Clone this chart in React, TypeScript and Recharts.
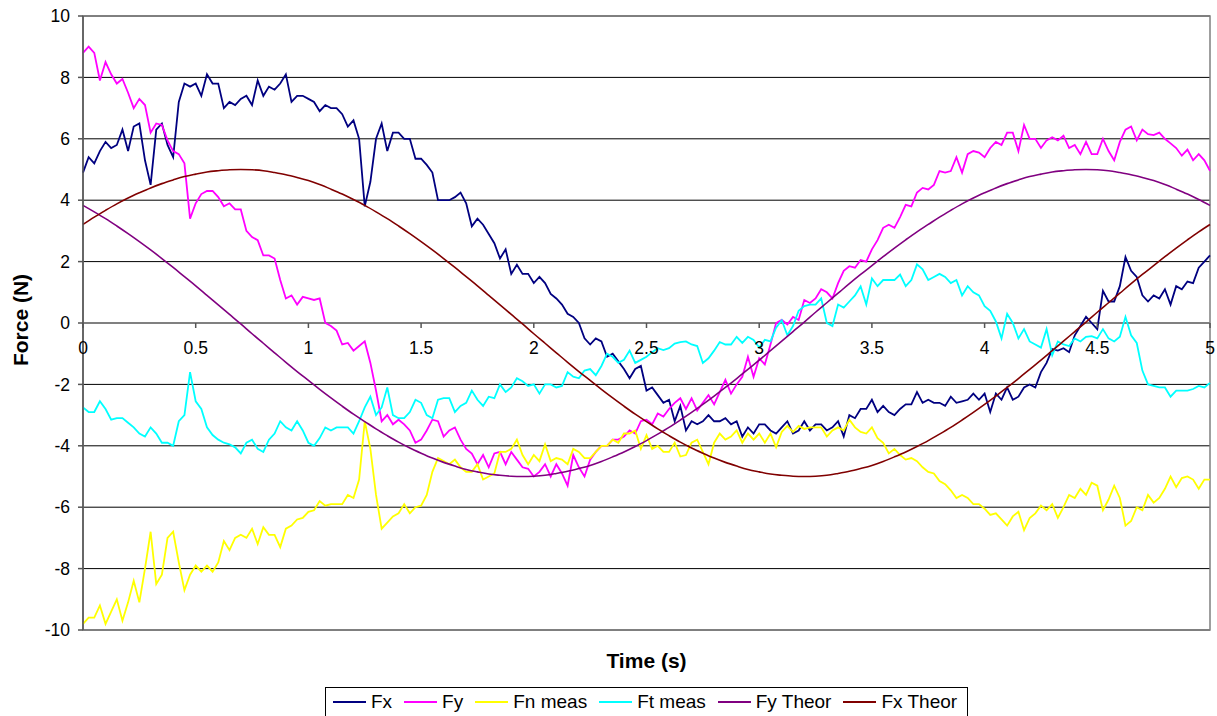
import React from 'react';
import { LineChart, Line, XAxis, YAxis, CartesianGrid, ReferenceLine, ReferenceArea, Legend } from 'recharts';

const time = [
  0, 0.025, 0.05, 0.075, 0.1, 0.125, 0.15, 0.175,
  0.2, 0.225, 0.25, 0.275, 0.3, 0.325, 0.35, 0.375,
  0.4, 0.425, 0.45, 0.475, 0.5, 0.525, 0.55, 0.575,
  0.6, 0.625, 0.65, 0.675, 0.7, 0.725, 0.75, 0.775,
  0.8, 0.825, 0.85, 0.875, 0.9, 0.925, 0.95, 0.975,
  1, 1.025, 1.05, 1.075, 1.1, 1.125, 1.15, 1.175,
  1.2, 1.225, 1.25, 1.275, 1.3, 1.325, 1.35, 1.375,
  1.4, 1.425, 1.45, 1.475, 1.5, 1.525, 1.55, 1.575,
  1.6, 1.625, 1.65, 1.675, 1.7, 1.725, 1.75, 1.775,
  1.8, 1.825, 1.85, 1.875, 1.9, 1.925, 1.95, 1.975,
  2, 2.025, 2.05, 2.075, 2.1, 2.125, 2.15, 2.175,
  2.2, 2.225, 2.25, 2.275, 2.3, 2.325, 2.35, 2.375,
  2.4, 2.425, 2.45, 2.475, 2.5, 2.525, 2.55, 2.575,
  2.6, 2.625, 2.65, 2.675, 2.7, 2.725, 2.75, 2.775,
  2.8, 2.825, 2.85, 2.875, 2.9, 2.925, 2.95, 2.975,
  3, 3.025, 3.05, 3.075, 3.1, 3.125, 3.15, 3.175,
  3.2, 3.225, 3.25, 3.275, 3.3, 3.325, 3.35, 3.375,
  3.4, 3.425, 3.45, 3.475, 3.5, 3.525, 3.55, 3.575,
  3.6, 3.625, 3.65, 3.675, 3.7, 3.725, 3.75, 3.775,
  3.8, 3.825, 3.85, 3.875, 3.9, 3.925, 3.95, 3.975,
  4, 4.025, 4.05, 4.075, 4.1, 4.125, 4.15, 4.175,
  4.2, 4.225, 4.25, 4.275, 4.3, 4.325, 4.35, 4.375,
  4.4, 4.425, 4.45, 4.475, 4.5, 4.525, 4.55, 4.575,
  4.6, 4.625, 4.65, 4.675, 4.7, 4.725, 4.75, 4.775,
  4.8, 4.825, 4.85, 4.875, 4.9, 4.925, 4.95, 4.975,
  5,
];

const fx = [
  4.9, 5.4, 5.2, 5.6, 5.9, 5.7, 5.8, 6.3, 5.6, 6.4, 6.5, 5.3, 4.5, 6.3, 6.5, 5.8,
  5.4, 7.2, 7.8, 7.7, 7.8, 7.4, 8.1, 7.8, 7.8, 7.0, 7.2, 7.1, 7.3, 7.4, 7.1, 7.9,
  7.4, 7.7, 7.6, 7.8, 8.1, 7.2, 7.4, 7.4, 7.3, 7.2, 6.9, 7.1, 7.0, 7.0, 6.8, 6.4,
  6.6, 6.0, 3.8, 4.6, 6.0, 6.5, 5.6, 6.2, 6.2, 6.0, 6.0, 5.35, 5.35, 5.15, 4.9, 4.0,
  4.0, 4.0, 4.1, 4.25, 3.9, 3.15, 3.4, 3.2, 2.9, 2.6, 2.1, 2.4, 1.6, 1.9, 1.6, 1.6,
  1.3, 1.5, 1.3, 0.95, 0.8, 0.6, 0.3, 0.2, 0.0, -0.5, -0.7, -0.5, -0.6, -1.1, -1.0, -1.25,
  -1.5, -1.8, -1.5, -1.4,
  -2.2, -2.1, -2.35, -2.6, -2.5, -3.2, -2.7, -3.5, -3.2, -3.3, -3.2, -3.0, -3.2, -3.2, -3.1, -3.3,
  -3.2, -3.7, -3.4, -3.6, -3.3, -3.3, -3.5, -3.6, -3.4, -3.2, -3.6, -3.5, -3.2, -3.5, -3.3, -3.3,
  -3.5, -3.4,
  -3.2, -3.7, -3.0, -3.1, -2.8, -2.8, -2.5, -2.9, -2.7, -2.9, -3.0, -2.8, -2.65, -2.65, -2.25, -2.6,
  -2.5, -2.6, -2.6, -2.7, -2.4, -2.6, -2.55, -2.5, -2.3, -2.5, -2.3, -2.9, -2.3, -2.5, -2.1, -2.5,
  -2.4, -2.1,
  -2.0, -2.1, -1.6, -1.3, -0.85, -0.9, -0.82, -0.95, -0.4, -0.1, 0.2, 0.0, -0.2, 1.05, 0.7, 0.7,
  1.2, 2.15, 1.7, 1.5, 0.9, 0.7, 0.9, 0.8, 1.1, 0.6, 1.2, 1.1, 1.35, 1.3, 1.8, 2.0,
  2.2,
];

const fy = [
  8.8, 9.0, 8.8, 7.9, 8.5, 8.1, 7.8, 7.95, 7.5, 7.0, 7.3, 7.1, 6.2, 6.5, 6.45, 5.95,
  5.6, 5.5, 5.2, 3.4, 3.9, 4.2, 4.3, 4.3, 4.1, 3.8, 3.9, 3.7, 3.7, 3.0, 2.8, 2.7,
  2.2, 2.2, 2.1, 1.4, 0.8, 0.9, 0.6, 0.85, 0.8, 0.75, 0.8, 0.0, -0.1, -0.25, -0.7, -0.65,
  -0.9, -0.75, -0.6, -1.3, -2.2, -3.2, -3.0, -3.3, -3.15, -3.3, -3.5, -3.9, -3.8, -3.5, -3.15, -3.2,
  -3.7, -3.5, -3.4, -3.8, -4.1, -4.25, -4.6, -4.3, -4.7, -4.25, -4.2, -4.6, -4.2, -4.45, -4.7, -4.75,
  -5.0, -4.85, -4.6, -5.0, -4.6, -4.9, -5.3, -4.3, -4.7, -5.0, -4.45, -4.2, -4.0, -4.0, -3.8, -3.8,
  -3.7, -3.5, -3.6, -3.2,
  -3.15, -3.3, -2.95, -3.05, -2.8, -2.6, -2.45, -2.8, -2.45, -2.85, -2.6, -2.35, -2.65, -2.25, -1.85, -2.3,
  -2.0, -1.75, -1.1, -1.75, -1.15, -1.35, -0.7, 0.0, 0.1, -0.05, 0.2, 0.1, 0.75, 0.65, 0.8, 1.1,
  1.0, 0.8,
  1.3, 1.7, 1.85, 1.8, 2.05, 2.0, 2.4, 2.7, 3.1, 3.2, 3.1, 3.45, 3.85, 3.8, 4.25, 4.4,
  4.35, 4.5, 4.95, 4.9, 4.95, 5.4, 4.9, 5.5, 5.6, 5.55, 5.4, 5.7, 5.9, 5.8, 6.2, 6.2,
  5.6, 6.45,
  6.0, 6.0, 5.7, 5.95, 6.05, 5.95, 6.1, 5.7, 5.8, 5.5, 5.9, 5.5, 5.5, 6.0, 5.6, 5.3,
  5.9, 6.3, 6.4, 5.95, 6.3, 6.15, 6.12, 6.2, 6.0, 5.85, 5.7, 5.45, 5.65, 5.3, 5.5, 5.3,
  4.96,
];

const fnMeas = [
  -9.8, -9.6, -9.6, -9.2, -9.8, -9.4, -9.0, -9.7, -9.1, -8.4, -9.1, -8.0, -6.8, -8.5, -8.2, -7.0,
  -6.8, -7.8, -8.7, -8.2, -7.9, -8.1, -7.9, -8.1, -7.8, -7.1, -7.4, -7.0, -6.9, -7.0, -6.7, -7.2,
  -6.65, -6.9, -6.9, -7.3, -6.7, -6.6, -6.4, -6.35, -6.15, -6.1, -5.8, -5.95, -5.9, -5.9, -5.9, -5.6,
  -5.7, -5.1, -3.2, -4.1, -5.6, -6.7, -6.5, -6.3, -6.2, -5.9, -6.2, -6.0, -5.95, -5.6, -4.85, -4.4,
  -4.5, -4.6, -4.45, -4.7, -4.85, -4.85, -4.6, -5.1, -5.0, -4.9, -4.2, -4.2, -4.1, -3.8, -4.3, -4.6,
  -4.3, -4.5, -3.95, -4.5, -4.4, -4.45, -4.6, -4.1, -4.2, -4.4, -4.4, -4.2, -4.0, -4.0, -3.8, -3.9,
  -3.6, -3.6, -3.5, -4.1,
  -3.65, -4.1, -4.0, -4.2, -4.2, -3.9, -4.35, -4.3, -3.9, -3.8, -4.2, -4.6, -3.9, -3.6, -3.8, -3.7,
  -3.5, -3.9, -3.6, -3.8, -3.6, -3.9, -3.6, -4.05, -3.55, -3.35, -3.55, -3.35, -3.45, -3.4, -3.4, -3.4,
  -3.7, -3.5,
  -3.4, -3.5, -3.15, -3.4, -3.55, -3.6, -3.4, -3.75, -3.9, -4.25, -4.1, -4.3, -4.45, -4.4, -4.5, -4.7,
  -4.85, -4.9, -5.15, -5.25, -5.45, -5.7, -5.6, -5.7, -5.9, -5.9, -6.05, -6.25, -6.2, -6.4, -6.6, -6.3,
  -6.15, -6.75,
  -6.35, -6.2, -5.95, -6.1, -5.9, -6.35, -6.0, -5.6, -5.7, -5.4, -5.6, -5.2, -5.3, -6.1, -5.75, -5.3,
  -5.7, -6.6, -6.45, -6.0, -6.1, -5.6, -5.85, -5.7, -5.4, -5.0, -5.35, -5.05, -5.0, -5.1, -5.4, -5.1,
  -5.1,
];

const ftMeas = [
  -2.75, -2.9, -2.9, -2.55, -2.8, -3.15, -3.1, -3.1, -3.25, -3.4, -3.6, -3.7, -3.4, -3.6, -3.9, -3.9,
  -4.0, -3.2, -3.0, -1.6, -2.55, -2.8, -3.4, -3.65, -3.8, -3.9, -3.95, -4.05, -4.25, -3.9, -3.8, -4.1,
  -4.2, -3.8, -3.6, -3.2, -3.4, -3.5, -3.2, -3.5, -3.9, -4.0, -3.75, -3.4, -3.5, -3.4, -3.4, -3.4,
  -3.6, -3.2, -2.75, -2.4, -3.0, -2.75, -2.1, -3.0, -3.1, -3.1, -2.9, -2.5, -2.6, -3.0, -3.1, -2.5,
  -2.45, -2.45, -2.9, -2.7, -2.6, -2.2, -2.5, -2.7, -2.4, -2.45, -2.0, -2.25, -2.1, -1.8, -1.9, -2.05,
  -2.0, -2.3, -2.0, -2.0, -2.1, -2.05, -1.6, -1.75, -1.8, -1.55, -1.5, -1.7, -1.4, -1.0, -1.1, -1.3,
  -1.2, -0.9, -1.3, -1.2,
  -1.1, -0.95, -0.82, -0.88, -0.82, -0.67, -0.62, -0.6, -0.7, -0.75, -1.3, -1.15, -0.9, -0.62, -0.7, -0.7,
  -0.45, -0.65, -0.45, -0.55, -0.8, -0.55, -0.6, -0.15, 0.09, -0.4, -0.1, 0.4, 0.55, 0.6, 0.6, 0.8,
  0.0, -0.1,
  0.6, 0.5, 0.7, 0.9, 1.19, 0.6, 1.45, 1.2, 1.4, 1.4, 1.4, 1.58, 1.2, 1.4, 1.91, 1.75,
  1.4, 1.5, 1.6, 1.5, 1.3, 1.4, 0.9, 1.2, 1.0, 0.9, 0.55, 0.4, 0.05, -0.5, 0.3, 0.0,
  -0.5, -0.2,
  -0.6, -0.7, -0.8, -0.2, -1.05, -0.6, -0.7, -0.75, -0.5, -0.6, -0.45, -0.43, -0.5, -0.2, -0.5, -0.6,
  -0.45, 0.2, -0.4, -0.65, -1.55, -2.0, -2.05, -2.1, -2.1, -2.4, -2.2, -2.2, -2.2, -2.15, -2.05, -2.1,
  -1.95,
];

// ---- theoretical curves, sampled every 0.05 s ----
const theoryTime = [
  0, 0.05, 0.1, 0.15, 0.2, 0.25, 0.3, 0.35, 0.4, 0.45, 0.5, 0.55, 0.6, 0.65, 0.7, 0.75,
  0.8, 0.85, 0.9, 0.95, 1, 1.05, 1.1, 1.15, 1.2, 1.25, 1.3, 1.35, 1.4, 1.45, 1.5, 1.55, 1.6,
  1.65, 1.7, 1.75, 1.8, 1.85, 1.9, 1.95, 2, 2.05, 2.1, 2.15, 2.2, 2.25, 2.3, 2.35, 2.4, 2.45,
  2.5, 2.55, 2.6, 2.65, 2.7, 2.75, 2.8, 2.85, 2.9, 2.95, 3, 3.05, 3.1, 3.15, 3.2, 3.25, 3.3,
  3.35, 3.4, 3.45, 3.5, 3.55, 3.6, 3.65, 3.7, 3.75, 3.8, 3.85, 3.9, 3.95, 4, 4.05, 4.1, 4.15,
  4.2, 4.25, 4.3, 4.35, 4.4, 4.45, 4.5, 4.55, 4.6, 4.65, 4.7, 4.75, 4.8, 4.85, 4.9, 4.95, 5,
];

const fyTheor = [
  3.83, 3.62, 3.40, 3.16, 2.91, 2.65, 2.38, 2.10, 1.81, 1.51, 1.21, 0.90, 0.59, 0.28, -0.03,
  -0.35, -0.66, -0.97, -1.28, -1.58, -1.87, -2.16, -2.44, -2.71, -2.97, -3.21, -3.45, -3.67, -3.88, -4.07,
  -4.24, -4.40, -4.54, -4.66, -4.77, -4.85, -4.92, -4.96, -4.99, -5.00, -4.99, -4.96, -4.90, -4.83, -4.74,
  -4.64, -4.51, -4.36, -4.20, -4.02, -3.83, -3.62, -3.40, -3.16, -2.91, -2.65, -2.38, -2.10, -1.81, -1.51,
  -1.21, -0.90, -0.59, -0.28, 0.03, 0.35, 0.66, 0.97, 1.28, 1.58, 1.87, 2.16, 2.44, 2.71, 2.97, 3.21,
  3.45, 3.67, 3.88, 4.07, 4.24, 4.40, 4.54, 4.66, 4.77, 4.85, 4.92, 4.96, 4.99, 5.00, 4.99, 4.96, 4.90,
  4.83, 4.74, 4.64, 4.51, 4.36, 4.20, 4.02, 3.83,
];

const fxTheor = [
  3.21, 3.45, 3.67, 3.88, 4.07, 4.24, 4.40, 4.54, 4.66, 4.77, 4.85, 4.92, 4.96, 4.99, 5.00,
  4.99, 4.96, 4.90, 4.83, 4.74, 4.64, 4.51, 4.36, 4.20, 4.02, 3.83, 3.62, 3.40, 3.16, 2.91,
  2.65, 2.38, 2.10, 1.81, 1.51, 1.21, 0.90, 0.59, 0.28, -0.03, -0.35, -0.66, -0.97, -1.28, -1.58,
  -1.87, -2.16, -2.44, -2.71, -2.97, -3.21, -3.45, -3.67, -3.88, -4.07, -4.24, -4.40, -4.54, -4.66, -4.77,
  -4.85, -4.92, -4.96, -4.99, -5.00, -4.99, -4.96, -4.90, -4.83, -4.74, -4.64, -4.51, -4.36, -4.20, -4.02,
  -3.83, -3.62, -3.40, -3.16, -2.91, -2.65, -2.38, -2.10, -1.81, -1.51, -1.21, -0.90, -0.59, -0.28, 0.03,
  0.35, 0.66, 0.97, 1.28, 1.58, 1.87, 2.16, 2.44, 2.71, 2.97, 3.21,
];

const xTicks = [0, 0.5, 1, 1.5, 2, 2.5, 3, 3.5, 4, 4.5, 5];
const yTicks = [-10, -8, -6, -4, -2, 0, 2, 4, 6, 8, 10];
const legendOrder = ['Fx', 'Fy', 'Fn meas', 'Ft meas', 'Fy Theor', 'Fx Theor'];

const measured = time.map((t, i) => ({ t, fx: fx[i], fy: fy[i], fn: fnMeas[i], ft: ftMeas[i] }));
const theory = theoryTime.map((t, i) => ({ t, fyT: fyTheor[i], fxT: fxTheor[i] }));

// ---- layout ----
const W = 1217;
const H = 716;
const M_TOP = 16;
const M_RIGHT = 7;
const Y_AXIS_W = 83;
const X_AXIS_H = 86;
const Y_MIN = -10;
const Y_MAX = 10;
const PLOT_H = H - M_TOP - X_AXIS_H;
const ZERO_Y = M_TOP + (PLOT_H * (Y_MAX - 0)) / (Y_MAX - Y_MIN);
const FONT = '"Liberation Sans", Arial, Helvetica, sans-serif';

const XTick = (props: any) => {
  const { x, payload } = props;
  return (
    <g>
      <line x1={x} x2={x} y1={ZERO_Y} y2={ZERO_Y + 5} stroke="#555" strokeWidth={1.5} />
      <text x={x} y={ZERO_Y + 31} textAnchor="middle" fontSize={17.5} fontFamily={FONT} fill="#000">
        {payload.value}
      </text>
    </g>
  );
};

const YTitle = () => {
  const cx = 28;
  const cy = M_TOP + PLOT_H / 2 - 3;
  return (
    <text
      x={cx}
      y={cy}
      transform={`rotate(-90 ${cx} ${cy})`}
      textAnchor="middle"
      fontWeight="bold"
      fontSize={21}
      fontFamily={FONT}
      fill="#000"
    >
      Force (N)
    </text>
  );
};

const XTitle = () => {
  const cx = Y_AXIS_W + (W - Y_AXIS_W - M_RIGHT) / 2;
  return (
    <text x={cx} y={668} textAnchor="middle" fontWeight="bold" fontSize={21} fontFamily={FONT} fill="#000">
      Time (s)
    </text>
  );
};

const LegendBox = (props: any) => {
  const payload = [...(props.payload || [])].sort(
    (a: any, b: any) => legendOrder.indexOf(a.value) - legendOrder.indexOf(b.value)
  );
  return (
    <div
      style={{
        position: 'absolute',
        left: 325,
        top: 687,
        height: 29,
        boxSizing: 'border-box',
        border: '1px solid #000',
        borderBottom: 'none',
        display: 'flex',
        alignItems: 'center',
        paddingLeft: 7,
        fontFamily: FONT,
        fontSize: 19,
        whiteSpace: 'nowrap',
        background: '#fff',
        color: '#000',
      }}
    >
      {payload.map((e: any, i: number) => (
        <div
          key={i}
          style={{ display: 'flex', alignItems: 'center', marginRight: i === payload.length - 1 ? 10 : 12 }}
        >
          <span style={{ display: 'inline-block', width: 33, height: 2, background: e.color, marginRight: 5 }} />
          <span>{e.value}</span>
        </div>
      ))}
    </div>
  );
};

export default function App() {
  return (
    <div style={{ position: 'absolute', left: 0, top: 0, width: W, height: H, background: '#fff' }}>
      <LineChart width={W} height={H} data={measured} margin={{ top: M_TOP, right: M_RIGHT, bottom: 0, left: 0 }}>
        <CartesianGrid horizontal vertical={false} stroke="#000" strokeWidth={1} />
        <ReferenceArea
          x1={0}
          x2={5}
          y1={Y_MIN}
          y2={Y_MAX}
          fill="none"
          fillOpacity={0}
          stroke="#808080"
          strokeWidth={1.5}
          ifOverflow="visible"
        />
        <ReferenceLine y={0} stroke="#808080" strokeWidth={2} />
        <XAxis
          dataKey="t"
          type="number"
          domain={[0, 5]}
          ticks={xTicks}
          interval={0}
          axisLine={false}
          tickLine={false}
          height={X_AXIS_H}
          tick={(p: any) => <XTick {...p} />}
          label={<XTitle />}
          allowDuplicatedCategory={false}
        />
        <YAxis
          type="number"
          domain={[Y_MIN, Y_MAX]}
          ticks={yTicks}
          interval={0}
          width={Y_AXIS_W}
          tickSize={5}
          tickMargin={8}
          axisLine={{ stroke: '#555', strokeWidth: 1.5 }}
          tickLine={{ stroke: '#555', strokeWidth: 1.5 }}
          tick={{ fontSize: 17.5, fontFamily: FONT, fill: '#000' }}
          label={<YTitle />}
        />
        <Legend
          content={(p: any) => <LegendBox {...p} />}
          wrapperStyle={{ position: 'absolute', left: 0, top: 0, width: 0, height: 0, margin: 0 }}
        />
        <Line dataKey="fx" name="Fx" stroke="#000080" strokeWidth={1.8} dot={false} isAnimationActive={false} type="linear" />
        <Line dataKey="fy" name="Fy" stroke="#FF00FF" strokeWidth={1.8} dot={false} isAnimationActive={false} type="linear" />
        <Line dataKey="fn" name="Fn meas" stroke="#FFFF00" strokeWidth={1.8} dot={false} isAnimationActive={false} type="linear" />
        <Line dataKey="ft" name="Ft meas" stroke="#00FFFF" strokeWidth={1.8} dot={false} isAnimationActive={false} type="linear" />
        <Line data={theory} dataKey="fyT" name="Fy Theor" stroke="#800080" strokeWidth={1.6} dot={false} isAnimationActive={false} type="monotone" />
        <Line data={theory} dataKey="fxT" name="Fx Theor" stroke="#800000" strokeWidth={1.6} dot={false} isAnimationActive={false} type="monotone" />
      </LineChart>
    </div>
  );
}
